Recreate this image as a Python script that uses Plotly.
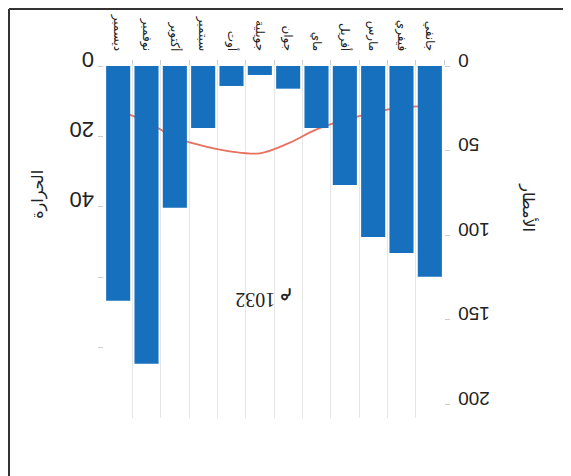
import plotly.graph_objects as go

# climogram, picture is upside down (rotated 180)
months = ["جانفي", "فيفري", "مارس", "أفريل", "ماي", "جوان",
          "جويلية", "أوت", "سبتمبر", "أكتوبر", "نوفمبر", "ديسمبر"]
rain = [124.5, 110.5, 101, 70.3, 36.6, 13.4, 5.3, 11.8, 36.6, 83.7, 176, 138.7]
temp = [11.5, 11.7, 13.3, 15.3, 18, 22, 24.8, 24.3, 22.7, 20.3, 15.8, 12.7]

temp_ticks = [0, 20, 40, 60, 80]
temp_labels = ["0", "20", "40", "", ""]
rain_ticks = [0, 50, 100, 150, 200]
rain_labels = ["0", "50", "100", "150", "200"]

nb = "\u00a0"
# pad with nbsp so upside-down labels line up like the original
temp_text = [t + nb * (2 * (2 - len(t))) if t else t for t in temp_labels]
rain_text = [nb * (2 * (3 - len(t))) + t for t in rain_labels]

fig = go.Figure()

fig.add_trace(go.Bar(x=months, y=rain, yaxis="y2",
                     marker=dict(color="#1670be", line=dict(width=0)),
                     name="الأمطار"))
fig.add_trace(go.Scatter(x=months, y=temp, mode="lines",
                         line=dict(color="#e8705f", width=1.8, shape="spline"),
                         name="الحرارة"))

# page body adds 8px, margins are shifted for it
fig.update_layout(
    width=571, height=476,
    margin=dict(l=96, r=135, t=58, b=66),
    paper_bgcolor="white", plot_bgcolor="white",
    showlegend=False,
    bargap=0.15,
    xaxis=dict(side="top", range=[11.5, -0.5], tickangle=90, automargin=False,
               tickfont=dict(family="DejaVu Sans", size=12, color="#222222"),
               ticklabelstandoff=12,
               ticks="outside", ticklen=5, tickcolor="#cccccc",
               tickson="boundaries", showgrid=True, gridcolor="#e6e6e6",
               showline=False, zeroline=False),
    yaxis=dict(range=[100, 0], tickvals=temp_ticks, ticktext=temp_text,
               tickangle=180, automargin=False,
               tickfont=dict(family="Liberation Sans", size=22, color="#222222"),
               ticklabelstandoff=24,
               ticks="outside", ticklen=5, tickcolor="#cccccc",
               showgrid=False, zeroline=False, showline=False),
    yaxis2=dict(range=[208, 0], overlaying="y", side="right",
                tickvals=rain_ticks, ticktext=rain_text, automargin=False,
                tickangle=180,
                tickfont=dict(family="Liberation Sans", size=19, color="#222222"),
                ticklabelstandoff=36,
                ticks="outside", ticklen=5, tickcolor="#cccccc",
                showgrid=False, zeroline=False, showline=False),
)

fig.add_annotation(text="الحرارة", xref="paper", yref="paper", x=-0.194, y=0.634,
                   xanchor="center", yanchor="middle",
                   textangle=-90, showarrow=False,
                   font=dict(family="DejaVu Sans", size=16, color="#222222"))
fig.add_annotation(text="الأمطار", xref="paper", yref="paper", x=1.25, y=0.599,
                   xanchor="center", yanchor="middle",
                   textangle=90, showarrow=False,
                   font=dict(family="DejaVu Sans", size=16, color="#222222"))
# LRO so the glyph order is fixed before turning it over
fig.add_annotation(text="\u202dم 1032\u202c", xref="paper", yref="paper", x=0.471, y=0.335,
                   xanchor="center", yanchor="middle",
                   textangle=180, showarrow=False,
                   font=dict(family="Liberation Serif", size=20, color="#222222"))

# frame lines of the photo
fig.add_shape(type="line", xref="paper", yref="paper", x0=-0.2794, x1=1.397,
              y0=1.162, y1=1.162, line=dict(color="#333333", width=2))
fig.add_shape(type="line", xref="paper", yref="paper", x0=-0.2794, x1=-0.2794,
              y0=1.162, y1=-0.1875, line=dict(color="#333333", width=2))

fig.write_html("out.html")
